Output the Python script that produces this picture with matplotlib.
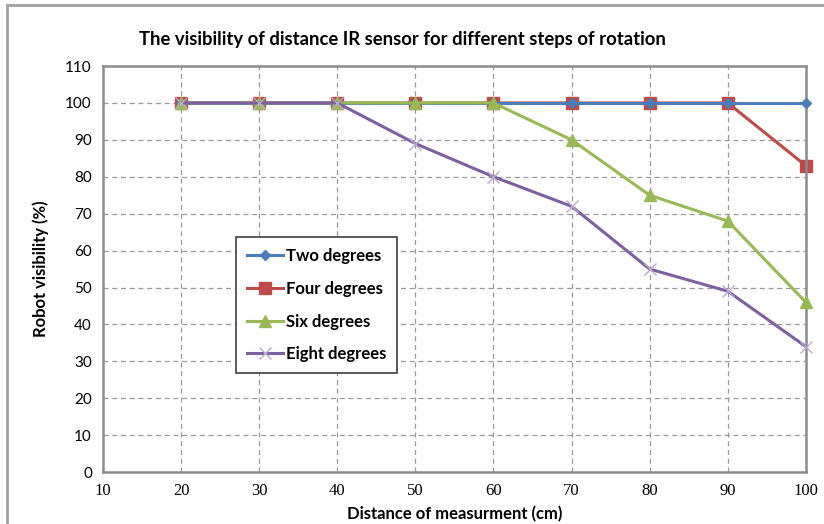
#!/usr/bin/env python

# visibility of distance IR sensor, excel-style line chart

import matplotlib.pyplot as plt
from matplotlib.patches import Rectangle

# data
dist = [20, 30, 40, 50, 60, 70, 80, 90, 100]
two_deg = [100, 100, 100, 100, 100, 100, 100, 100, 100]
four_deg = [100, 100, 100, 100, 100, 100, 100, 100, 83]
six_deg = [100, 100, 100, 100, 100, 90, 75, 68, 46]
eight_deg = [100, 100, 100, 89, 80, 72, 55, 49, 34]
labels = ['Two degrees', 'Four degrees', 'Six degrees', 'Eight degrees']

fig = plt.figure(figsize=(8.24, 5.24), dpi=100)
ax = fig.add_axes([0.125, 0.099, 0.853, 0.775])

# outer chart border (cropped on right/bottom)
fig.patches.append(Rectangle((7 / 824, -0.05), 1.1, 1 - 5 / 524 + 0.05,
                             transform=fig.transFigure, fill=False,
                             edgecolor='#a0a0a0', linewidth=2, zorder=0))

ax.plot(dist, two_deg, color='#4a7ebb', lw=2.2, marker='D', ms=5,
        label=labels[0], zorder=3, clip_on=False)
ax.plot(dist, four_deg, color='#be4b48', lw=2.2, marker='s', ms=9,
        label=labels[1], zorder=2, clip_on=False)
ax.plot(dist, six_deg, color='#98b954', lw=2.2, marker='^', ms=9,
        label=labels[2], zorder=4, clip_on=False)
ax.plot(dist, eight_deg, color='#7d60a0', lw=2.2, marker='x', ms=9,
        mew=1, mec='#b9a8d0', label=labels[3], zorder=5, clip_on=False)

ax.set_xlim(10, 100)
ax.set_ylim(0, 110)
ax.set_xticks(range(10, 101, 10))
ax.set_yticks(range(0, 111, 10))
ax.grid(True, linestyle=(0, (4, 3)), color='#999999', linewidth=0.9)
ax.tick_params(length=0, pad=8)
for lab in ax.get_xticklabels():
    lab.set_family('Liberation Serif')
    lab.set_fontsize(12)
for lab in ax.get_yticklabels():
    lab.set_family('Lato')
    lab.set_fontsize(11)
for sp in ax.spines.values():
    sp.set_color('#8c8c8c')
    sp.set_linewidth(1.8)

fig.text(402 / 824, 1 - 40 / 524,
         'The visibility of distance IR sensor for different steps of rotation',
         ha='center', va='center', fontsize=13.3, fontweight='bold', family='Lato')
ax.set_xlabel('Distance of measurment (cm)', fontsize=12,
              fontweight='bold', family='Lato', labelpad=5)
ax.set_ylabel('Robot visibility (%)', fontsize=12,
              fontweight='bold', family='Lato', labelpad=12)

leg = ax.legend(loc='upper left', bbox_to_anchor=(0.189, 0.578),
                prop={'family': 'Lato', 'weight': 'bold', 'size': 12},
                handlelength=2.2, labelspacing=1.0, handletextpad=0.15,
                fancybox=False, framealpha=1, borderpad=0.65,
                borderaxespad=0)
leg.get_frame().set_edgecolor('#404040')
leg.get_frame().set_linewidth(1.2)

plt.savefig('out.png', dpi=100)
